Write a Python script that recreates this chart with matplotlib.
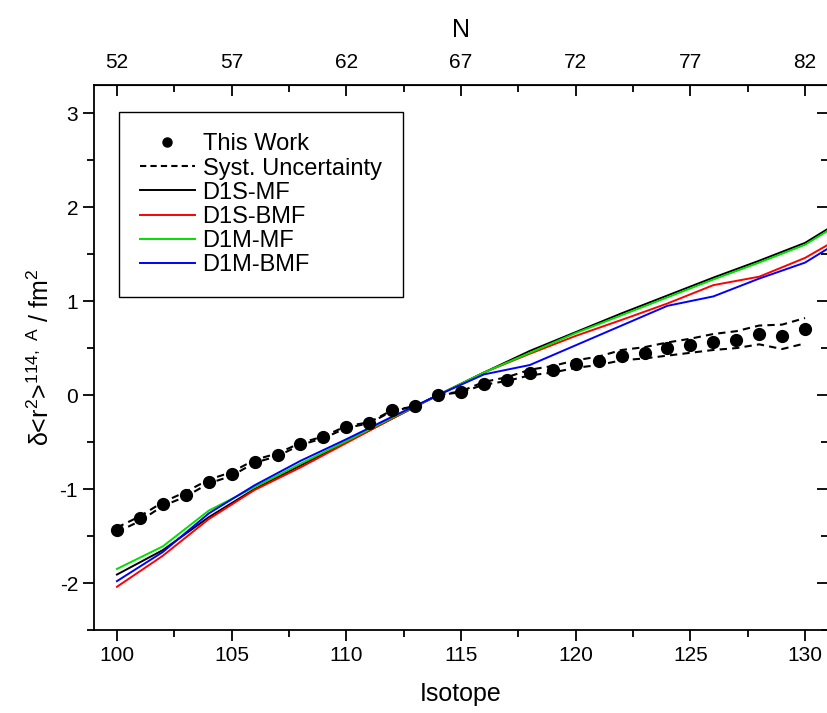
import numpy as np
import matplotlib
matplotlib.use("Agg")
import matplotlib.pyplot as plt
from matplotlib.ticker import MultipleLocator, FixedLocator

plt.rcParams['font.family'] = ['Liberation Sans', 'DejaVu Sans']
plt.rcParams['mathtext.default'] = 'regular'
plt.rcParams['axes.unicode_minus'] = False

# measured isotope shifts (fm^2), A = 100..130
mass = np.arange(100, 131)
this_work = [-1.44, -1.31, -1.16, -1.06, -0.92, -0.84, -0.71, -0.64, -0.52, -0.45,
             -0.34, -0.30, -0.16, -0.12, 0.00, 0.03, 0.12, 0.16, 0.24, 0.27,
             0.33, 0.36, 0.42, 0.45, 0.50, 0.53, 0.57, 0.59, 0.65, 0.63, 0.70]
syst_upper = [-1.41, -1.29, -1.14, -1.03, -0.90, -0.82, -0.69, -0.62, -0.51, -0.44,
              -0.33, -0.29, -0.16, -0.12, 0.00, 0.04, 0.14, 0.19, 0.27, 0.31,
              0.37, 0.41, 0.48, 0.51, 0.56, 0.60, 0.65, 0.68, 0.74, 0.75, 0.82]
syst_lower = [-1.46, -1.34, -1.18, -1.08, -0.94, -0.86, -0.72, -0.65, -0.53, -0.46,
              -0.35, -0.30, -0.17, -0.12, 0.00, 0.03, 0.11, 0.15, 0.21, 0.24,
              0.29, 0.32, 0.37, 0.39, 0.42, 0.45, 0.48, 0.50, 0.54, 0.49, 0.55]

# theory, even A = 100..132
mass_th = np.arange(100, 133, 2)
d1s_mf = [-1.91, -1.65, -1.30, -1.00, -0.75, -0.50, -0.25, 0.00, 0.24,
          0.47, 0.67, 0.87, 1.06, 1.25, 1.43, 1.62, 1.92]
d1s_bmf = [-2.04, -1.71, -1.32, -1.01, -0.77, -0.51, -0.25, 0.00, 0.24,
           0.44, 0.63, 0.80, 0.975, 1.17, 1.26, 1.46, 1.74]
d1m_mf = [-1.85, -1.61, -1.23, -0.98, -0.73, -0.49, -0.24, 0.00, 0.24,
          0.45, 0.66, 0.85, 1.04, 1.23, 1.41, 1.60, 1.90]
d1m_bmf = [-1.98, -1.67, -1.26, -0.96, -0.70, -0.47, -0.23, 0.00, 0.22,
           0.32, 0.53, 0.74, 0.95, 1.05, 1.24, 1.41, 1.71]

# neutron number ticks on top
n_ticks = [52, 57, 62, 67, 72, 77, 82]

fig = plt.figure(figsize=(8.28, 7.13), dpi=100)
ax = fig.add_axes([94 / 828, 1 - 630 / 713, 734 / 828, 545 / 713])

dash = (0, (3.5, 2.5))
ax.plot(mass, this_work, 'o', color='black', ms=8.5, zorder=5)
ax.plot(mass, syst_upper, color='black', lw=1.5, linestyle=dash)
ax.plot(mass, syst_lower, color='black', lw=1.5, linestyle=dash)
ax.plot(mass_th, d1s_mf, color='black', lw=1.4, label='D1S-MF')
ax.plot(mass_th, d1s_bmf, color='#ff0000', lw=1.4, label='D1S-BMF')
ax.plot(mass_th, d1m_mf, color='#00e000', lw=1.4, label='D1M-MF')
ax.plot(mass_th, d1m_bmf, color='#0000ff', lw=1.4, label='D1M-BMF')

# legend proxies (smaller dot than the data)
h_dot, = ax.plot([], [], 'o', color='black', ms=6.5, label='This Work')
h_dash, = ax.plot([], [], color='black', lw=1.5, linestyle=(0, (3, 2)), label='Syst. Uncertainty')

ax.set_xlim(99, 131)
ax.set_ylim(-2.5, 3.3)
ax.xaxis.set_major_locator(MultipleLocator(5))
ax.xaxis.set_minor_locator(MultipleLocator(2.5))
ax.yaxis.set_major_locator(MultipleLocator(1))
ax.yaxis.set_minor_locator(MultipleLocator(0.5))
ax.tick_params(which='both', direction='out', labelsize=15, width=1.3)
ax.tick_params(which='major', length=8)
ax.tick_params(which='minor', length=5)
for s in ax.spines.values():
    s.set_linewidth(1.3)

ax.set_xlabel('Isotope', fontsize=18, labelpad=12)
ax.set_ylabel(r'$\delta$<r$^2$>$^{114,\ A}$ / fm$^2$', fontsize=18, labelpad=4)

top = ax.secondary_xaxis('top', functions=(lambda a: a - 48, lambda n: n + 48))
top.xaxis.set_major_locator(FixedLocator(n_ticks))
top.xaxis.set_minor_locator(FixedLocator([n + 2.5 for n in n_ticks[:-1]]))
top.tick_params(which='both', direction='in', labelsize=15, width=1.3, pad=9)
top.tick_params(which='major', length=8)
top.tick_params(which='minor', length=5)
top.set_xlabel('N', fontsize=18, labelpad=12)

right = ax.secondary_yaxis('right')
right.yaxis.set_major_locator(MultipleLocator(1))
right.yaxis.set_minor_locator(MultipleLocator(0.5))
right.tick_params(which='both', direction='in', labelright=False, width=1.3)
right.tick_params(which='major', length=8)
right.tick_params(which='minor', length=5)

handles = [h_dot, h_dash] + ax.get_lines()[3:7]
leg = ax.legend(handles=handles, loc='upper left', bbox_to_anchor=(0.034, 0.95),
                borderaxespad=0, fontsize=17, numpoints=1, handlelength=2.3,
                labelspacing=0.09, fancybox=False, framealpha=1, edgecolor='black',
                borderpad=0.9, handletextpad=0.34)
leg.get_frame().set_linewidth(1.0)

fig.savefig('out.png', dpi=100)
